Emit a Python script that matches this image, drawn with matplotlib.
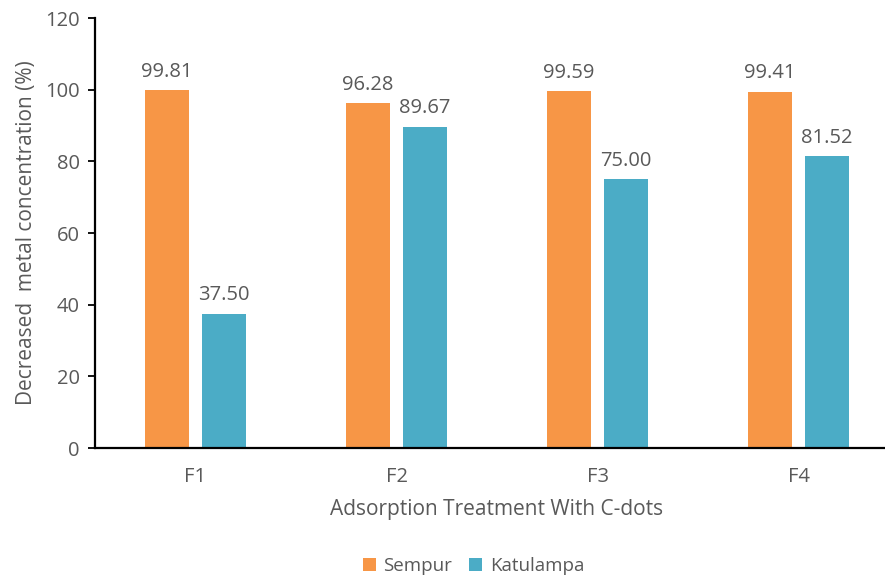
import numpy as np
import matplotlib.pyplot as plt

plt.rcParams['font.family'] = ['Open Sans', 'DejaVu Sans']

treatments = ["F1", "F2", "F3", "F4"]
sempur = [99.81, 96.28, 99.59, 99.41]
katulampa = [37.50, 89.67, 75.00, 81.52]

orange = "#F79646"
teal = "#4BACC6"
grey = "#595959"

fig = plt.figure(figsize=(8.85, 5.76), dpi=100)
ax = fig.add_axes([0.1073, 0.2222, 0.9087, 0.7465])

x = np.arange(len(treatments))
w = 0.22
off = 0.142
b1 = ax.bar(x - off, sempur, w, color=orange, label="Sempur")
b2 = ax.bar(x + off, katulampa, w, color=teal, label="Katulampa")

# value labels above each bar
for bars, vals in ((b1, sempur), (b2, katulampa)):
    for rect, v in zip(bars, vals):
        ax.annotate(f"{v:.2f}", (rect.get_x() + rect.get_width() / 2, v),
                    xytext=(0, 6), textcoords="offset points",
                    ha="center", va="bottom", fontsize=14.5, color=grey)

ax.set_xlim(-0.5, 3.5)
ax.set_ylim(0, 120)
ax.set_yticks(range(0, 121, 20))
ax.set_xticks(x)
ax.set_xticklabels(treatments)
ax.tick_params(axis="x", length=0, pad=14, labelsize=14.5, labelcolor=grey)
ax.tick_params(axis="y", length=5, width=1.3, direction="out", labelsize=14.5,
               labelcolor=grey, pad=6)

for s in ("top", "right"):
    ax.spines[s].set_visible(False)
for s in ("left", "bottom"):
    ax.spines[s].set_linewidth(1.6)
    ax.spines[s].set_color("black")

ax.set_ylabel("Decreased  metal concentration (%)", fontsize=15, color=grey, labelpad=6)
ax.set_xlabel("Adsorption Treatment With C-dots", fontsize=15, color=grey, labelpad=8)

fig.legend(loc="center", bbox_to_anchor=(0.535, 0.018), ncol=2, frameon=False,
           fontsize=13.5, labelcolor=grey, handlelength=0.7, handleheight=0.7,
           columnspacing=0.9, handletextpad=0.4)

fig.savefig("out.png", dpi=100)
